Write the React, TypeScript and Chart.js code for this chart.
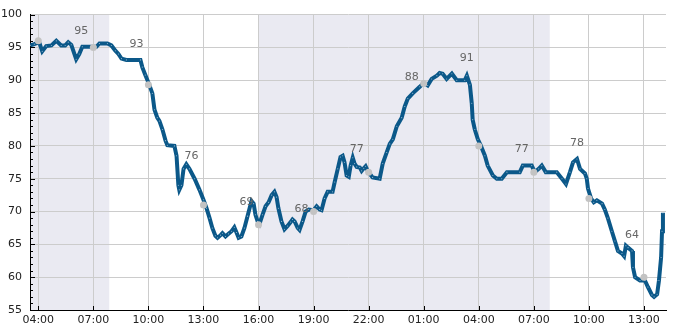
import React, { useEffect, useRef } from "react";
import { Chart, registerables } from "chart.js";

Chart.register(...registerables);

// minutes since 00:00 of the first day
const times = [
  214, 227, 243, 253, 266, 283, 299, 315, 328, 338, 348, 364, 374, 384, 417, 430, 440, 466, 479, 492,
  502, 512, 528, 574, 580, 590, 603, 613, 620, 629, 636, 646, 656, 662, 685, 692, 698, 701, 708, 715,
  724, 734, 751, 767, 780, 790, 800, 809, 819, 826, 836, 842, 852, 862, 872, 881, 888, 895, 904, 914,
  924, 937, 944, 950, 957, 963, 973, 983, 993, 1003, 1012, 1019, 1025, 1035, 1045, 1055, 1065, 1071, 1078, 1088,
  1094, 1104, 1114, 1124, 1140, 1150, 1160, 1166, 1176, 1186, 1202, 1209, 1219, 1228, 1235, 1241, 1248, 1255, 1261, 1268,
  1274, 1281, 1291, 1297, 1304, 1310, 1317, 1323, 1333, 1356, 1366, 1379, 1389, 1399, 1412, 1428, 1438, 1448, 1464, 1487,
  1500, 1513, 1526, 1543, 1552, 1562, 1575, 1592, 1608, 1634, 1641, 1651, 1657, 1660, 1667, 1677, 1687, 1700, 1709, 1726,
  1739, 1755, 1772, 1814, 1824, 1853, 1863, 1876, 1886, 1899, 1935, 1952, 1965, 1978, 1988, 2001, 2011, 2027, 2033, 2037,
  2047, 2056, 2066, 2083, 2092, 2102, 2115, 2125, 2135, 2148, 2155, 2161, 2168, 2181, 2184, 2191, 2207, 2223, 2233, 2246,
  2253, 2263, 2269, 2276, 2279, 2282,
];
const values = [
  95.3, 95.5, 95.8, 94.4, 95.2, 95.3, 96, 95.3, 95.3, 95.8, 95.4, 93.2, 94, 95.1, 95.1, 95.1, 95.6, 95.6, 95.3, 94.5,
  94, 93.3, 93.1, 93.1, 92, 90.8, 89.3, 88, 85.5, 84.3, 83.8, 82.5, 80.8, 80.1, 80, 78.5, 74, 73.3, 74, 76.5,
  77.2, 76.5, 75, 73.3, 71.8, 70.5, 69, 67.5, 66.3, 66, 66.4, 66.7, 66.2, 66.6, 67, 67.6, 66.8, 66, 66.2, 67.5,
  69.3, 71.6, 71.2, 69.5, 68.5, 68.1, 69.5, 70.8, 71.4, 72.5, 73, 72.2, 70.5, 68.5, 67.3, 67.8, 68.4, 68.8, 68.5, 67.5,
  67.2, 68.5, 70, 70.3, 70.2, 70.8, 70.3, 70.2, 72, 73, 73, 74.5, 76.5, 78.3, 78.5, 77.5, 75.5, 75.3, 77, 78.2,
  77.3, 76.8, 76.7, 76.2, 76.6, 76.9, 76.2, 75.8, 75.2, 75, 77.3, 79, 80.3, 81, 83, 84.3, 86, 87.2, 88, 89,
  89.6, 89.2, 90.2, 90.7, 91.1, 91, 90.2, 91, 90, 90, 90.7, 89.3, 86.5, 84, 82.5, 81, 80, 78.5, 77, 75.5,
  75, 75, 76, 76, 77, 77, 76, 76.5, 77, 76, 76, 75, 74.2, 76, 77.5, 78, 76.5, 75.8, 75, 73.5,
  72, 71.4, 71.7, 71.2, 70.3, 69, 67, 65.5, 64, 63.6, 63.2, 64.8, 64.5, 64, 61.5, 60, 59.5, 59.5, 58.5, 57.3,
  57, 57.4, 59.5, 63, 67, 69.8,
];

const markerTimes = [240, 420, 600, 780, 960, 1140, 1320, 1500, 1680, 1860, 2040, 2220];
const markerValues = [96, 95, 89.3, 71, 68, 70, 76, 89.5, 80, 76, 72, 60];

const peakTimes = [420, 600, 780, 960, 1140, 1320, 1500, 1680, 1860, 2040, 2220];
const peakValues = [95, 93, 76, 69, 68, 77, 88, 91, 77, 78, 64];

const nightStarts = [0, 960];
const nightEnds = [472, 1912];

const xTicks = [240, 420, 600, 780, 960, 1140, 1320, 1500, 1680, 1860, 2040, 2220];
const yTicks = [55, 60, 65, 70, 75, 80, 85, 90, 95, 100];
const xMin = 213;
const xMax = 2292;
const yMin = 55;
const yMax = 100;

const FONT = '"DejaVu Sans", sans-serif';

function fmtTime(v: number): string {
  const h = Math.floor(v / 60) % 24;
  const m = Math.round(v % 60);
  return String(h).padStart(2, "0") + ":" + String(m).padStart(2, "0");
}

const decorPlugin = {
  id: "decor",
  beforeDraw(chart: any) {
    const { ctx, chartArea, scales } = chart;
    ctx.save();
    ctx.fillStyle = "#eaeaf2";
    nightStarts.forEach((s, i) => {
      const x0 = Math.max(chartArea.left, scales.x.getPixelForValue(s));
      const x1 = Math.min(chartArea.right, scales.x.getPixelForValue(nightEnds[i]));
      if (x1 > x0) ctx.fillRect(x0, chartArea.top, x1 - x0, chartArea.bottom - chartArea.top);
    });
    ctx.restore();
  },
  afterDatasetsDraw(chart: any) {
    const { ctx, scales } = chart;
    ctx.save();
    ctx.font = "11px " + FONT;
    ctx.fillStyle = "#666666";
    ctx.textAlign = "center";
    ctx.textBaseline = "middle";
    peakTimes.forEach((t, i) => {
      const x = scales.x.getPixelForValue(t) - 12;
      const y = scales.y.getPixelForValue(peakValues[i]) - 16;
      ctx.fillText(String(peakValues[i]), x, y);
    });
    ctx.restore();
  },
  afterDraw(chart: any) {
    const { ctx, chartArea, scales } = chart;
    ctx.save();
    ctx.strokeStyle = "#000";
    ctx.lineWidth = 1;
    ctx.beginPath();
    for (let v = yMin; v <= yMax; v++) {
      const y = Math.round(scales.y.getPixelForValue(v)) + 0.5;
      const len = v % 5 === 0 ? 5 : 3;
      ctx.moveTo(chartArea.left, y);
      ctx.lineTo(chartArea.left + len, y);
    }
    xTicks.forEach((t) => {
      const x = Math.round(scales.x.getPixelForValue(t)) + 0.5;
      ctx.moveTo(x, chartArea.bottom);
      ctx.lineTo(x, chartArea.bottom - 4);
    });
    ctx.stroke();
    ctx.restore();
  },
};

export default function App() {
  const ref = useRef<HTMLCanvasElement | null>(null);
  useEffect(() => {
    if (!ref.current) return;
    const chart = new Chart(ref.current, {
      type: "line",
      data: {
        datasets: [
          {
            label: "markers",
            data: markerTimes.map((t, i) => ({ x: t, y: markerValues[i] })),
            showLine: false,
            order: 0,
            pointRadius: 3.5,
            pointBackgroundColor: "#c3c3c3",
            pointBorderWidth: 0,
            borderColor: "#c3c3c3",
          },
          {
            label: "value",
            data: times.map((t, i) => ({ x: t, y: values[i] })),
            order: 1,
            borderColor: "#0b5889",
            borderWidth: 4,
            tension: 0,
            pointRadius: 0.55,
            pointBorderWidth: 0,
            pointBackgroundColor: "rgba(200,220,236,0.75)",
          },
        ],
      } as any,
      options: {
        animation: false,
        responsive: false,
        events: [],
        layout: { padding: { top: 10, right: 19, left: 0, bottom: 0 } },
        plugins: { legend: { display: false }, tooltip: { enabled: false } },
        scales: {
          x: {
            type: "linear",
            min: xMin,
            max: xMax,
            afterBuildTicks: (s: any) => {
              s.ticks = xTicks.map((v) => ({ value: v }));
            },
            afterFit: (s: any) => {
              s.height = 20;
            },
            grid: { color: "#cccccc", drawTicks: false },
            border: { color: "#000000", width: 1 },
            ticks: {
              padding: 4,
              color: "#222222",
              font: { family: FONT, size: 11 },
              maxRotation: 0,
              autoSkip: false,
              callback: (v: any) => fmtTime(Number(v)),
            },
          },
          y: {
            type: "linear",
            min: yMin,
            max: yMax,
            afterBuildTicks: (s: any) => {
              s.ticks = yTicks.map((v) => ({ value: v }));
            },
            afterFit: (s: any) => {
              s.width = 30;
            },
            grid: { color: "#cccccc", drawTicks: false },
            border: { color: "#000000", width: 1 },
            ticks: {
              padding: 8,
              color: "#222222",
              font: { family: FONT, size: 11 },
              autoSkip: false,
            },
          },
        },
      } as any,
      plugins: [decorPlugin],
    });
    return () => chart.destroy();
  }, []);
  return (
    <div style={{ position: "absolute", left: 0, top: 0, width: 685, height: 330 }}>
      <canvas ref={ref} width={685} height={330} />
    </div>
  );
}
